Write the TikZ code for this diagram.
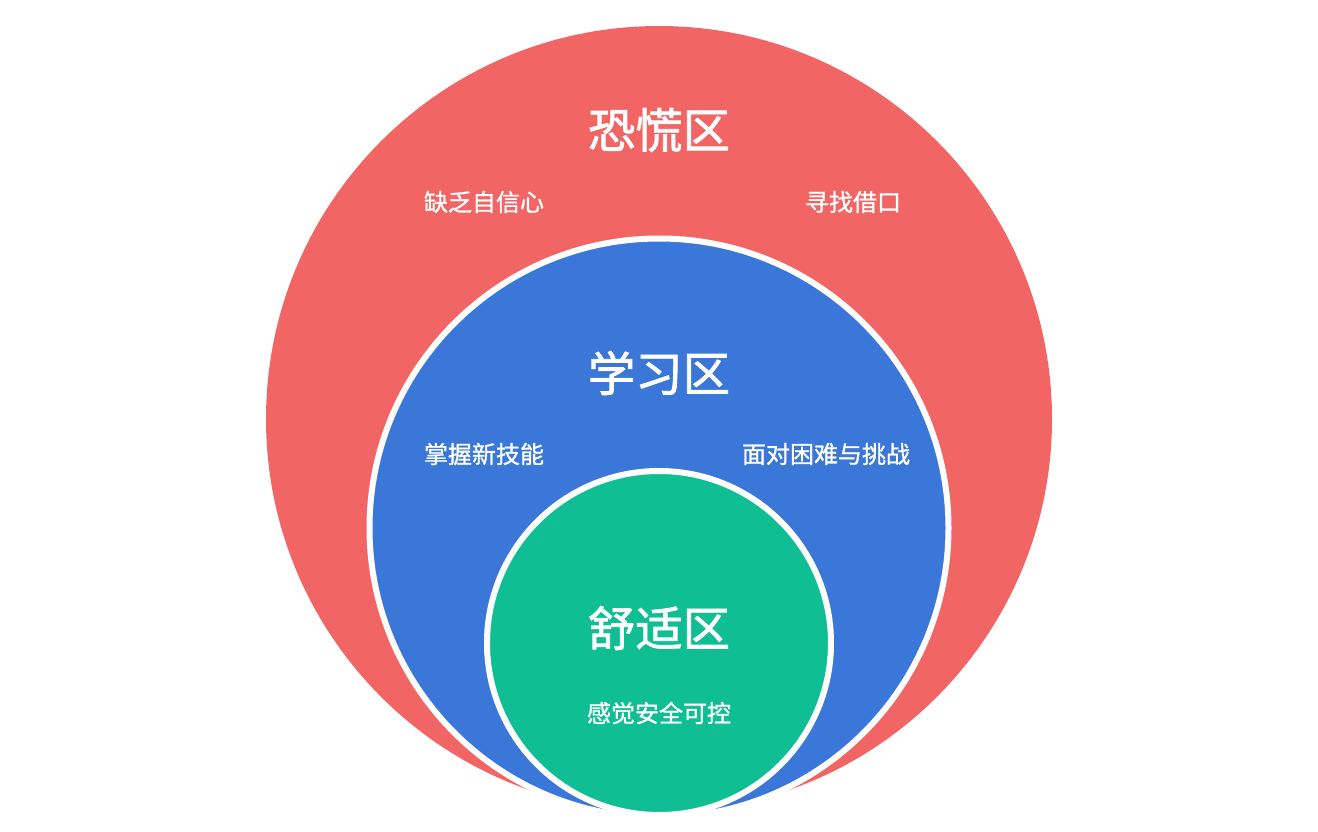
\documentclass[tikz,border=0pt]{standalone}
\usepackage{fontspec}
\newfontfamily\cjk[FakeBold=1.6]{Noto Sans CJK SC}
\newfontfamily\cjknote[FakeBold=1.1]{Noto Sans CJK SC}
\usepackage{tikz}
\usetikzlibrary{backgrounds}
\definecolor{panicred}{RGB}{241,101,100}
\definecolor{learnblue}{RGB}{58,119,216}
\definecolor{comfortgreen}{RGB}{16,190,148}
\tikzset{
  zone/.style={circle, inner sep=0pt, draw=white, line width=4.5pt},
  title/.style={text=white, font=\cjk\fontsize{35.5}{40}\selectfont},
  note/.style={text=white, font=\cjknote\fontsize{18}{20}\selectfont}
}
\begin{document}
\begin{tikzpicture}[x=0.75pt,y=-0.75pt]
\useasboundingbox (0,0) rectangle (1318,832);
% zones
\node[zone, fill=panicred, draw=none, minimum size=786*0.75pt] (panic) at (659,419) {};
\node[zone, fill=learnblue, minimum size=579*0.75pt] (learn) at (659,528) {};
\node[zone, fill=comfortgreen, minimum size=344*0.75pt] (comfort) at (659,643) {};
% labels
\node[title] (panictitle) at (659,130) {恐慌区};
\node[note] (panicleft) at (484,202) {缺乏自信心};
\node[note] (panicright) at (853,202) {寻找借口};
\node[title] (learntitle) at (659,373) {学习区};
\node[note] (learnleft) at (484,454) {掌握新技能};
\node[note] (learnright) at (826,454) {面对困难与挑战};
\node[title] (comforttitle) at (659,628) {舒适区};
\node[note] (comfortnote) at (659,713) {感觉安全可控};
\end{tikzpicture}
\end{document}
